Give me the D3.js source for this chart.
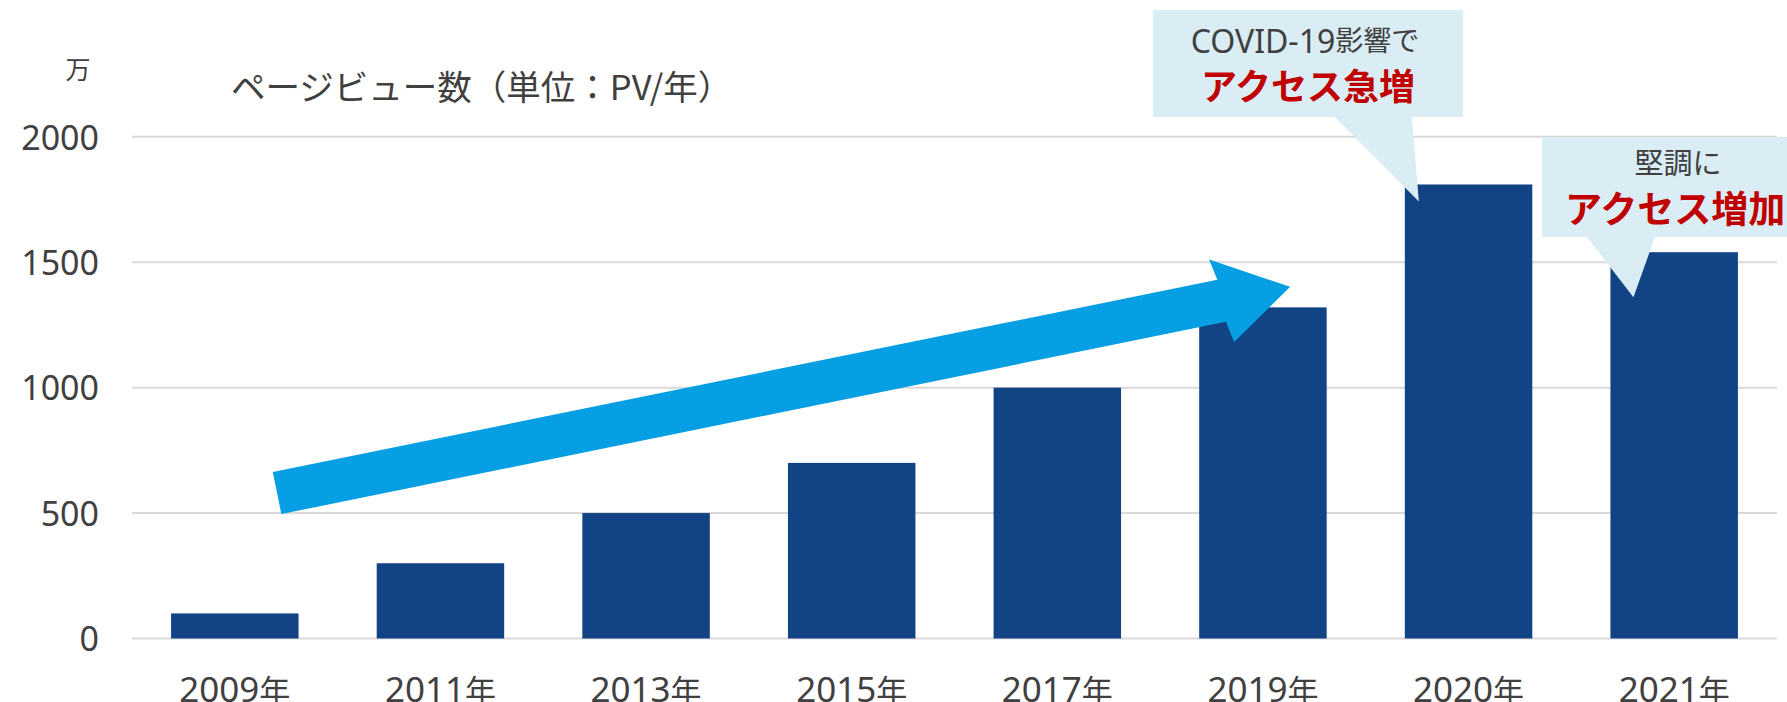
<!DOCTYPE html>
<html>
<head>
<meta charset="utf-8">
<title>ページビュー数</title>
<style>
  body { margin: 0; background: #fff; }
  text { fill: #404040; }
</style>
<script src="https://cdn.jsdelivr.net/npm/d3@7"></script>
</head>
<body>
<svg id="chart" width="1787" height="702"></svg>
<script>
// data
const years = ["2009年", "2011年", "2013年", "2015年", "2017年", "2019年", "2020年", "2021年"];
const pageViews = [100, 300, 500, 700, 1000, 1320, 1810, 1540];
const yTicks = [0, 500, 1000, 1500, 2000];
const titleText = "ページビュー数（単位：PV/年）";
const unitText = "万";
const note1 = ["COVID-19影響で", "アクセス急増"];
const note2 = ["堅調に", "アクセス増加"];

const svg = d3.select("#chart");
const LATIN = "'Noto Sans', 'Noto Sans CJK JP', sans-serif";
const CJK_RE = /[\u3000-\u9fff\uff00-\uffef]+|[^\u3000-\u9fff\uff00-\uffef]+/g;

// mixed text: latin runs a little bigger than kanji/kana runs, like the original font
function richText(sel, str, latinSize, cjkSize) {
  sel.text(null);
  str.match(CJK_RE).forEach(run => {
    const isCjk = /[\u3000-\u9fff\uff00-\uffef]/.test(run);
    sel.append("tspan")
       .style("font-size", (isCjk ? cjkSize : latinSize) + "px")
       .text(run);
  });
}

const xScale = d3.scaleBand()
                 .domain(years)
                 .range([132, 1777])
                 .paddingInner(0.38)
                 .paddingOuter(0.19);

const yScale = d3.scaleLinear()
                 .domain([0, 2000])
                 .range([638.5, 136.8]);

// gridlines
svg.append("g")
   .selectAll("line")
   .data(yTicks)
   .join("line")
   .attr("x1", 132)
   .attr("x2", 1777)
   .attr("y1", d => yScale(d))
   .attr("y2", d => yScale(d))
   .style("stroke", "#d9d9d9")
   .style("stroke-width", 2);

// y axis labels
const yAxis = d3.axisLeft(yScale)
                .tickValues(yTicks)
                .tickFormat(d3.format("d"))
                .tickSize(0)
                .tickPadding(0);
const gy = svg.append("g")
              .attr("transform", "translate(99,0)")
              .call(yAxis);
gy.select(".domain").remove();
gy.selectAll("text")
  .style("font-family", LATIN)
  .style("font-size", "34px")
  .style("fill", "#404040")
  .attr("dy", "0.36em");

// x axis labels
const xAxis = d3.axisBottom(xScale).tickSize(0).tickPadding(0);
const gx = svg.append("g")
              .attr("transform", "translate(0,702)")
              .call(xAxis);
gx.select(".domain").remove();
gx.selectAll("text")
  .attr("dy", 0)
  .style("font-family", LATIN)
  .style("fill", "#404040")
  .each(function(d) { richText(d3.select(this), d, 35, 31); });

// bars
svg.append("g")
   .selectAll("rect")
   .data(pageViews)
   .join("rect")
   .attr("x", (d, i) => xScale(years[i]))
   .attr("width", xScale.bandwidth())
   .attr("y", d => yScale(d))
   .attr("height", d => yScale(0) - yScale(d))
   .style("fill", "#124485");

// title and unit
svg.append("text")
   .attr("x", 78).attr("y", 68)
   .attr("text-anchor", "middle")
   .attr("dominant-baseline", "central")
   .style("font-family", "'Noto Sans CJK JP', sans-serif")
   .style("font-size", "25px")
   .text(unitText);

svg.append("text")
   .attr("x", 231).attr("y", 85)
   .attr("dominant-baseline", "central")
   .style("font-family", "'Noto Sans CJK JP', sans-serif")
   .style("font-size", "34.5px")
   .text(titleText);

// growth arrow, from the 2009 bar up to the 2019 bar
const arrowFrom = [xScale("2009年") + 106, yScale(580)];
const arrowTo = [xScale("2019年") + 91, yScale(1402)];
function blockArrow(p0, p1, shaftHalf, headHalf, headLen) {
  const dx = p1[0] - p0[0], dy = p1[1] - p0[1];
  const len = Math.hypot(dx, dy);
  const ux = dx / len, uy = dy / len, nx = -uy, ny = ux;
  const bx = p1[0] - ux * headLen, by = p1[1] - uy * headLen;
  const pt = (x, y, k) => [x + nx * k, y + ny * k];
  return [
    pt(p0[0], p0[1], -shaftHalf),
    pt(bx, by, -shaftHalf),
    pt(bx - ux * 4, by - uy * 4, -headHalf),
    p1,
    pt(bx + ux * 4, by + uy * 4, headHalf),
    pt(bx, by, shaftHalf),
    pt(p0[0], p0[1], shaftHalf)
  ];
}
svg.append("path")
   .attr("d", d3.line()(blockArrow(arrowFrom, arrowTo, 21.5, 43, 70)) + "Z")
   .style("fill", "#079fe3");

// callouts
function callout(box, tail, tip) {
  const [x0, y0, x1, y1] = box;
  return d3.line()([[x0, y0], [x1, y0], [x1, y1], [tail[1], y1], tip,
                    [tail[0], y1], [x0, y1]]) + "Z";
}
const tip1 = [xScale("2020年") + 14, yScale(1810) + 17];
const tip2 = [xScale("2021年") + 23, yScale(1540) + 45];

svg.append("path")
   .attr("d", callout([1153, 10, 1463, 117], [1335, 1412], tip1))
   .style("fill", "#daedf4");
svg.append("path")
   .attr("d", callout([1542, 137, 1800, 237], [1587, 1655], tip2))
   .style("fill", "#daedf4");

svg.append("text")
   .attr("x", 1305).attr("y", 40)
   .attr("text-anchor", "middle")
   .attr("dominant-baseline", "central")
   .style("font-family", LATIN)
   .each(function() { richText(d3.select(this), note1[0], 32, 28); });
svg.append("text")
   .attr("x", 1308).attr("y", 84)
   .attr("text-anchor", "middle")
   .attr("dominant-baseline", "central")
   .style("font-family", "'Noto Sans CJK JP', sans-serif")
   .style("font-weight", 700)
   .style("font-size", "36px")
   .style("fill", "#c00000")
   .text(note1[1]);

svg.append("text")
   .attr("x", 1678).attr("y", 161)
   .attr("text-anchor", "middle")
   .attr("dominant-baseline", "central")
   .style("font-family", "'Noto Sans CJK JP', sans-serif")
   .style("font-size", "29px")
   .text(note2[0]);
svg.append("text")
   .attr("x", 1565).attr("y", 207)
   .attr("dominant-baseline", "central")
   .style("font-family", "'Noto Sans CJK JP', sans-serif")
   .style("font-weight", 700)
   .style("font-size", "37px")
   .style("fill", "#c00000")
   .text(note2[1]);
</script>
</body>
</html>
